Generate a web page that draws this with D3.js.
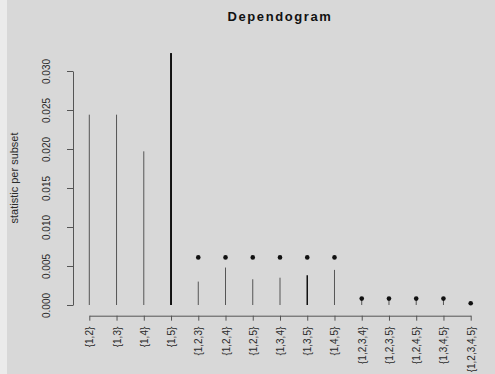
<!DOCTYPE html>
<html>
<head>
<meta charset="utf-8">
<script src="https://cdn.jsdelivr.net/npm/d3@7.9.0/dist/d3.min.js"></script>
<style>
  html, body { margin: 0; padding: 0; background: #d8d8d8; }
  svg { display: block; font-family: 'Liberation Sans', Arial, sans-serif; }
</style>
</head>
<body>
<div id="chart"></div>
<script>
const subsets = ['{1,2}', '{1,3}', '{1,4}', '{1,5}', '{1,2,3}', '{1,2,4}', '{1,2,5}', '{1,3,4}',
  '{1,3,5}', '{1,4,5}', '{1,2,3,4}', '{1,2,3,5}', '{1,2,4,5}', '{1,3,4,5}', '{1,2,3,4,5}'];
const statistic = [0.0244, 0.0244, 0.0197, 0.0323, 0.0030, 0.0048, 0.0033, 0.0035,
  0.0038, 0.0045, 0.0007, 0.0007, 0.0007, 0.0007, 0.0001];
const critical = [null, null, null, null, 0.0061, 0.0061, 0.0061, 0.0061,
  0.0061, 0.0061, 0.00082, 0.00082, 0.00082, 0.00082, 0.00022];
const yTicks = [0, 0.005, 0.01, 0.015, 0.02, 0.025, 0.03];

// subsets whose stat line looks heavier in the original
const heavy = new Set(['{1,5}', '{1,3,5}']);

const width = 495;
const height = 374;

const svg = d3.select('#chart')
  .append('svg')
  .attr('width', width)
  .attr('height', height);

svg.append('rect').attr('width', width).attr('height', height).attr('fill', '#d8d8d8');
svg.append('rect').attr('width', 7).attr('height', height).attr('fill', '#ebebeb');

const x = d3.scalePoint().domain(subsets).range([89.3, 470.7]);
const y = d3.scaleLinear().domain([0, 0.03]).range([305, 71]);

const data = subsets.map((s, i) => ({ s, stat: statistic[i], crit: critical[i] }));

// y axis
const yAxis = svg.append('g')
  .attr('transform', 'translate(73,0)')
  .call(d3.axisLeft(y).tickValues(yTicks).tickFormat(d3.format('.3f')).tickSize(6).tickSizeOuter(0));
yAxis.select('.domain').attr('stroke', '#555');
yAxis.selectAll('.tick line').attr('stroke', '#555');
yAxis.selectAll('.tick text')
  .attr('transform', 'rotate(-90)')
  .attr('x', 0)
  .attr('y', -23)
  .attr('dy', null)
  .attr('text-anchor', 'middle')
  .attr('fill', '#2a2a2a')
  .style('font-size', '10px')
  .style('font-family', "'Liberation Sans', Arial, sans-serif");

// x axis
const xAxis = svg.append('g')
  .attr('transform', 'translate(0,315.7)')
  .call(d3.axisBottom(x).tickSize(5).tickSizeOuter(0));
xAxis.select('.domain').attr('stroke', '#555');
xAxis.selectAll('.tick line').attr('stroke', '#555');
xAxis.selectAll('.tick text')
  .attr('transform', 'rotate(-90)')
  .attr('x', -11)
  .attr('y', 0)
  .attr('dy', '0.35em')
  .attr('text-anchor', 'end')
  .attr('fill', '#2a2a2a')
  .style('font-size', '10px')
  .style('font-family', "'Liberation Sans', Arial, sans-serif");

// statistic lines
svg.append('g')
  .selectAll('line')
  .data(data)
  .join('line')
  .attr('x1', (d) => x(d.s))
  .attr('x2', (d) => x(d.s))
  .attr('y1', y(0))
  .attr('y2', (d) => y(d.stat))
  .attr('stroke', (d) => (heavy.has(d.s) ? '#111' : '#555'))
  .attr('stroke-width', (d) => (d.s === '{1,5}' ? 2 : heavy.has(d.s) ? 1.5 : 1));

// critical values
svg.append('g')
  .selectAll('circle')
  .data(data.filter((d) => d.crit != null))
  .join('circle')
  .attr('cx', (d) => x(d.s))
  .attr('cy', (d) => y(d.crit))
  .attr('r', 2.3)
  .attr('fill', '#111');

// title and y label
svg.append('text')
  .attr('x', 280)
  .attr('y', 20.5)
  .attr('text-anchor', 'middle')
  .attr('font-weight', 'bold')
  .attr('font-size', 13)
  .attr('letter-spacing', 1.6)
  .attr('fill', '#111')
  .text('Dependogram');

svg.append('text')
  .attr('transform', 'translate(18,178) rotate(-90)')
  .attr('text-anchor', 'middle')
  .attr('font-size', 11)
  .attr('fill', '#2a2a2a')
  .text('statistic per subset');
</script>
</body>
</html>
